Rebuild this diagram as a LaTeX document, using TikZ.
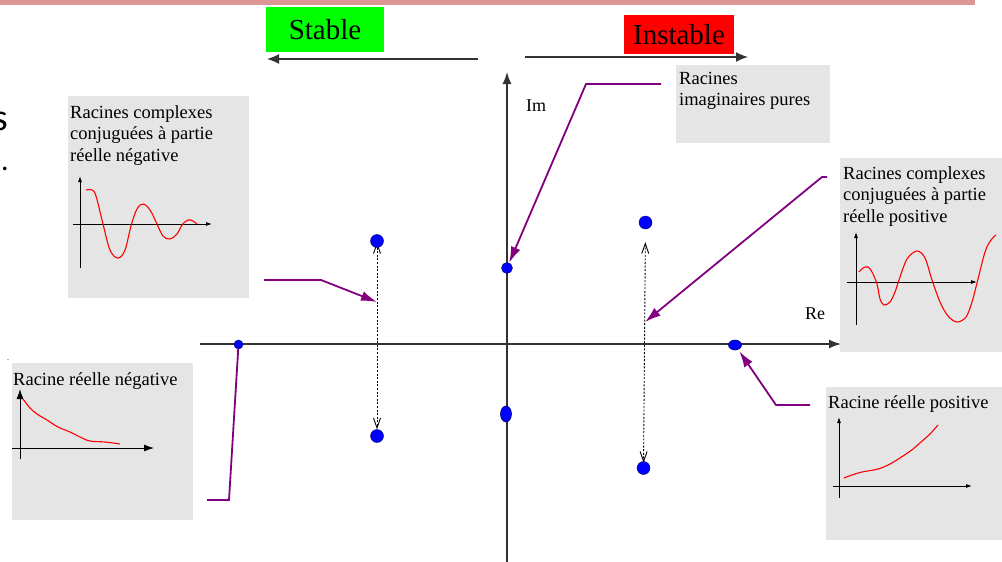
\documentclass[tikz,border=0pt]{standalone}
\usepackage{fontspec}
\setmainfont{Liberation Serif}
\newfontfamily\calibrifont{Carlito}
\usetikzlibrary{arrows.meta,shapes.geometric}
\definecolor{pinkbar}{HTML}{DD9696}
\definecolor{boxgray}{HTML}{E5E5E5}
\definecolor{rootblue}{HTML}{0000FF}
\definecolor{violetline}{HTML}{800080}
\definecolor{greenbox}{HTML}{00FF00}
\definecolor{redbox}{HTML}{FF0000}
\definecolor{axisgray}{HTML}{333333}
\pgfdeclarelayer{background}
\pgfsetlayers{background,main}
\begin{document}
\begin{tikzpicture}[x=1pt,y=-1pt,
  graybox/.style={draw=none,fill=boxgray,anchor=north west,inner sep=0},
  boxtext/.style={anchor=north west,inner sep=0,align=left,font=\fontsize{18.5}{21.5}\selectfont},
  axislabel/.style={anchor=north west,inner sep=0,font=\fontsize{18}{21}\selectfont},
  mainaxis/.style={draw=axisgray,line width=1.4pt,-{Latex[length=12pt,width=9pt]}},
  toparrow/.style={draw=axisgray,line width=1.4pt,-{Latex[length=12pt,width=10pt]}},
  miniaxis/.style={draw=black,line width=0.9pt,-{Latex[length=6pt,width=4pt]}},
  miniaxisb/.style={draw=black,line width=0.9pt,-{Latex[length=10pt,width=7pt]}},
  redcurve/.style={draw=red,line width=1.1pt},
  purplearrow/.style={draw=violetline,line width=1.8pt,-{Latex[length=16pt,width=10pt]}},
  purpleline/.style={draw=violetline,line width=1.8pt},
  dasharrow/.style={draw=black,line width=0.9pt,dash pattern=on 2pt off 1.6pt,{Straight Barb[length=10pt,width=7pt]}-{Straight Barb[length=10pt,width=7pt]}},
  rootdot/.style={circle,fill=rootblue,draw=blue!40!black,line width=0.4pt,inner sep=0},
  rootell/.style={ellipse,fill=rootblue,draw=blue!40!black,line width=0.6pt,inner sep=0}
]
\useasboundingbox (0,0) rectangle (1002,562);

% top pink bar
\fill[pinkbar] (0,0) rectangle (975,5);

% left-edge fragments
\node[anchor=base east,inner sep=0,font=\calibrifont\fontsize{38}{38}\selectfont] (frag1) at (8,130) {s};
\node[anchor=base west,inner sep=0,font=\calibrifont\fontsize{30}{30}\selectfont] (frag2) at (1,170) {.};
\node[anchor=base west,inner sep=0,font=\fontsize{8}{8}\selectfont] (frag3) at (7,360) {.};

% Stable / Instable
\node[fill=greenbox,minimum width=118pt,minimum height=45pt,inner sep=0,font=\fontsize{29}{29}\selectfont] (stable) at (325,29.5) {Stable};
\node[fill=redbox,minimum width=110pt,minimum height=39pt,inner sep=0,font=\fontsize{29}{29}\selectfont] (instable) at (679,34.5) {Instable};
\coordinate (sa1) at (478,59);
\coordinate (sa2) at (267,59);
\coordinate (ia1) at (525,57);
\coordinate (ia2) at (748,57);
\draw[toparrow] (sa1) -- (sa2);
\draw[toparrow] (ia1) -- (ia2);

% gray boxes
\node[graybox,minimum width=181pt,minimum height=202pt] (b1) at (68,96) {};
\node[graybox,minimum width=181pt,minimum height=157pt] (b2) at (12,363) {};
\node[graybox,minimum width=170pt,minimum height=194pt] (b3) at (840,158) {};
\node[graybox,minimum width=180pt,minimum height=153pt] (b4) at (826,387) {};
\node[graybox,minimum width=154pt,minimum height=78pt] (b5) at (676,65) {};

% box texts
\node[boxtext] (t1) at (70,105) {Racines complexes\\conjuguées à partie\\réelle négative};
\node[boxtext] (t2) at (13,372) {Racine réelle négative};
\node[boxtext] (t3) at (843,166) {Racines complexes\\conjuguées à partie\\réelle positive};
\node[boxtext] (t4) at (828,395) {Racine réelle positive};
\node[boxtext] (t5) at (679,72) {Racines\\imaginaires pures};

% mini plots
% box 1
\draw[miniaxis] (80,268) -- (80,176);
\draw[miniaxis] (73,224) -- (212,224);
\draw[redcurve] plot[smooth,tension=0.6] coordinates {(86,190) (92,190) (96,196) (103,224) (110,250) (118,258) (125,250) (131,226) (137,209) (143,204) (150,210) (157,224) (163,236) (170,239) (177,234) (182,225) (188,220) (193,221) (197,224)};
% box 2
\draw[miniaxisb] (20,459) -- (20,389);
\draw[miniaxisb] (12,448) -- (154,448);
\draw[redcurve] plot[smooth,tension=0.6] coordinates {(23,399) (30,408) (37,414) (47,420) (58,427) (70,432) (80,437) (90,441) (105,442) (120,444)};
% box 3
\draw[miniaxis] (856,325) -- (856,232);
\draw[miniaxis] (847,282) -- (977,282);
\draw[redcurve] plot[smooth,tension=0.55] coordinates {(859,272) (863,268) (868,267) (872,272) (877,284) (880,299) (884,305) (890,302) (895,292) (899,280) (907,259) (917,251) (925,258) (932,280) (940,302) (948,316) (957,322) (966,317) (972,302) (977,283) (985,252) (991,240) (996,235)};
% box 4
\draw[miniaxis] (839,498) -- (839,417);
\draw[miniaxis] (833,486) -- (972,486);
\draw[redcurve] plot[smooth,tension=0.6] coordinates {(844,478) (852,475) (862,472) (878,469) (890,464) (903,456) (913,449) (921,442) (930,434) (938,425)};

% main axes
\coordinate (xa1) at (200,344);
\coordinate (xa2) at (841,344);
\coordinate (ya1) at (507,565);
\coordinate (ya2) at (507,72);
\draw[mainaxis] (xa1) -- (xa2);
\draw[mainaxis] (ya1) -- (ya2);
\node[axislabel] (im) at (526,100) {Im};
\node[axislabel] (re) at (805,308) {Re};

% roots
\node[rootdot,minimum size=9pt] (rNeg) at (238.5,344.5) {};
\node[rootdot,minimum size=13pt] (rL1) at (377,241) {};
\node[rootdot,minimum size=13pt] (rL2) at (377,436) {};
\node[rootdot,minimum size=11pt] (rIm1) at (507,268) {};
\node[rootell,minimum width=11pt,minimum height=16pt] (rIm2) at (506,414) {};
\node[rootdot,minimum size=13pt] (rR1) at (645.5,222.5) {};
\node[rootdot,minimum size=13pt] (rR2) at (643.5,468) {};
\node[rootell,minimum width=13pt,minimum height=10pt] (rPos) at (735,345) {};

% dashed conjugate arrows
\begin{pgfonlayer}{background}
\draw[dasharrow,shorten <=-5.5pt,shorten >=0pt] (rL1) -- (rL2);
\draw[dasharrow,shorten <=13pt,shorten >=-1.5pt] (rR1) -- (rR2);
\end{pgfonlayer}

% purple connectors
\coordinate (p1s) at (661,84);
\coordinate (p1b) at (586,84);
\draw[purplearrow] (p1s) -- (p1b) -- (rIm1);

\coordinate (p2s) at (827,177);
\coordinate (p2b) at (822,177);
\coordinate (p2e) at (645,322);
\draw[purplearrow] (p2s) -- (p2b) -- (p2e);

\coordinate (p3s) at (264,280);
\coordinate (p3b) at (321,280);
\coordinate (p3e) at (377,302);
\draw[purplearrow] (p3s) -- (p3b) -- (p3e);

\coordinate (p4s) at (207,500);
\coordinate (p4b) at (229,500);
\draw[purpleline] (p4s) -- (p4b) -- (rNeg);

\coordinate (p5s) at (810,405);
\coordinate (p5b) at (776,405);
\draw[purplearrow,shorten >=2pt] (p5s) -- (p5b) -- (rPos);
\end{tikzpicture}
\end{document}
